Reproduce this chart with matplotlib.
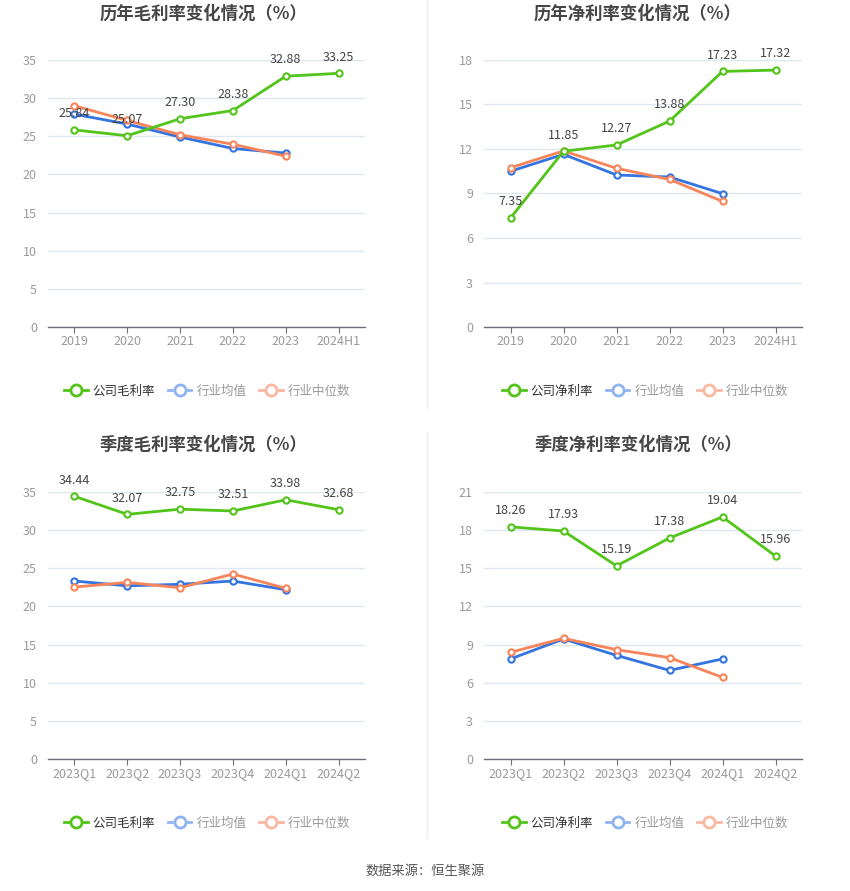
import matplotlib
matplotlib.use("Agg")
import matplotlib.pyplot as plt
from matplotlib.lines import Line2D

plt.rcParams['font.family'] = ['Noto Sans CJK SC', 'DejaVu Sans']

# ---------------- data ----------------
years = ['2019', '2020', '2021', '2022', '2023', '2024H1']
quarters = ['2023Q1', '2023Q2', '2023Q3', '2023Q4', '2024Q1', '2024Q2']

annual_gross_company = [25.84, 25.07, 27.30, 28.38, 32.88, 33.25]
annual_gross_avg = [27.9, 26.6, 24.9, 23.4, 22.8]
annual_gross_median = [29.0, 27.07, 25.2, 23.95, 22.4]

annual_net_company = [7.35, 11.85, 12.27, 13.88, 17.23, 17.32]
annual_net_avg = [10.5, 11.64, 10.25, 10.11, 8.99]
annual_net_median = [10.74, 11.87, 10.7, 9.95, 8.47]

q_gross_company = [34.44, 32.07, 32.75, 32.51, 33.98, 32.68]
q_gross_avg = [23.33, 22.7, 22.9, 23.33, 22.19]
q_gross_median = [22.54, 23.15, 22.45, 24.25, 22.37]

q_net_company = [18.26, 17.93, 15.19, 17.38, 19.04, 15.96]
q_net_avg = [7.87, 9.44, 8.15, 6.97, 7.87]
q_net_median = [8.39, 9.49, 8.6, 7.97, 6.42]

titles = ['历年毛利率变化情况（%）', '历年净利率变化情况（%）',
          '季度毛利率变化情况（%）', '季度净利率变化情况（%）']
company_names = ['公司毛利率', '公司净利率', '公司毛利率', '公司净利率']
avg_name = '行业均值'
median_name = '行业中位数'
source_text = '数据来源：恒生聚源'

# ---------------- style ----------------
GREEN = '#52c41a'
BLUE = '#3474e0'
ORANGE = '#f8845a'
BLUE_L = '#92b3f2'
ORANGE_L = '#f9b8a0'
GRID = '#e0e6f1'
TICK = '#9a9a9a'
LABEL = '#444444'

W, H = 850, 891
fig = plt.figure(figsize=(W / 100, H / 100), dpi=100)
fig.patch.set_facecolor('white')


def fx(px):
    return px / W


def fy(py):
    return 1 - py / H


panels = [
    dict(cats=years, comp=annual_gross_company, avg=annual_gross_avg, med=annual_gross_median,
         ymax=35, step=5, box=(48, 365, 60, 327), title_xy=(203, 14), leg_xy=(207, 391)),
    dict(cats=years, comp=annual_net_company, avg=annual_net_avg, med=annual_net_median,
         ymax=18, step=3, box=(484, 802, 60, 327), title_xy=(638, 14), leg_xy=(645, 391)),
    dict(cats=quarters, comp=q_gross_company, avg=q_gross_avg, med=q_gross_median,
         ymax=35, step=5, box=(48, 365, 492, 759), title_xy=(203, 445), leg_xy=(207, 823)),
    dict(cats=quarters, comp=q_net_company, avg=q_net_avg, med=q_net_median,
         ymax=21, step=3, box=(484, 802, 492, 759), title_xy=(638, 445), leg_xy=(645, 823)),
]

for i, p in enumerate(panels):
    l, r, t, b = p['box']
    ax = fig.add_axes([fx(l), fy(b), fx(r - l), (b - t) / H])
    n = len(p['cats'])
    xs = list(range(n))
    ax.set_xlim(-0.5, n - 0.5)
    ax.set_ylim(0, p['ymax'])
    ticks = list(range(0, p['ymax'] + 1, p['step']))
    ax.set_yticks(ticks)
    ax.set_xticks(xs)
    ax.set_xticklabels(p['cats'])
    ax.grid(axis='y', color=GRID, linewidth=1)
    ax.set_axisbelow(True)
    for s in ['top', 'right', 'left']:
        ax.spines[s].set_visible(False)
    ax.spines['bottom'].set_color('#6e7079')
    ax.spines['bottom'].set_linewidth(1)
    ax.tick_params(axis='y', length=0, labelsize=9, labelcolor=TICK, pad=8)
    ax.tick_params(axis='x', length=4, color='#6e7079', labelsize=9, labelcolor=TICK, pad=2)

    mk = dict(marker='o', markersize=4.5, markerfacecolor='white', markeredgewidth=1.5, linewidth=2)
    ax.plot(xs[:len(p['avg'])], p['avg'], color=BLUE, markeredgecolor=BLUE, zorder=3, **mk)
    ax.plot(xs[:len(p['med'])], p['med'], color=ORANGE, markeredgecolor=ORANGE, zorder=3, **mk)
    ax.plot(xs, p['comp'], color=GREEN, markeredgecolor=GREEN, zorder=4, **mk)
    for x, v in zip(xs, p['comp']):
        ax.annotate(f'{v:.2f}', (x, v), xytext=(0, 7), textcoords='offset points',
                    ha='center', va='bottom', fontsize=9, color=LABEL, zorder=5)

    fig.text(fx(p['title_xy'][0]), fy(p['title_xy'][1]), titles[i], ha='center', va='center',
             fontsize=12.5, fontweight='bold', color='#464646')

    handles = [
        Line2D([], [], color=GREEN, marker='o', markersize=8, markerfacecolor='white',
               markeredgewidth=2, linewidth=2),
        Line2D([], [], color=BLUE_L, marker='o', markersize=8, markerfacecolor='white',
               markeredgewidth=2, linewidth=2),
        Line2D([], [], color=ORANGE_L, marker='o', markersize=8, markerfacecolor='white',
               markeredgewidth=2, linewidth=2),
    ]
    leg = fig.legend(handles, [company_names[i], avg_name, median_name], loc='center',
                     bbox_to_anchor=(fx(p['leg_xy'][0]), fy(p['leg_xy'][1])), ncol=3,
                     frameon=False, fontsize=9, handlelength=1.9, handletextpad=0.4,
                     columnspacing=1.0, borderaxespad=0)
    for j, txt in enumerate(leg.get_texts()):
        txt.set_color('#333333' if j == 0 else '#999999')

# separators
fig.add_artist(Line2D([fx(427), fx(427)], [fy(0), fy(408)], color='#eeeeee', linewidth=1))
fig.add_artist(Line2D([fx(427), fx(427)], [fy(432), fy(838)], color='#eeeeee', linewidth=1))

fig.text(0.5, fy(871), source_text, ha='center', va='center', fontsize=9.5, color='#555555')

fig.savefig('out.png', dpi=100, facecolor='white')
